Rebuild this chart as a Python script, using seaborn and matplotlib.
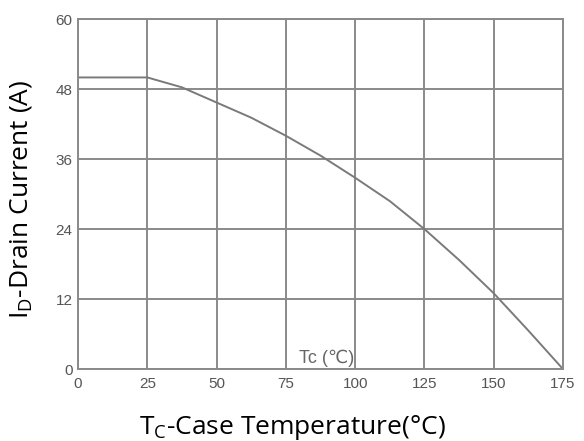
import matplotlib
matplotlib.use("Agg")
import matplotlib.pyplot as plt
import seaborn as sns
import pandas as pd

# Drain current derating vs case temperature
case_temp = [0, 25, 37.5, 50, 62.5, 75, 87.5, 100, 112.5, 125, 137.5, 150, 162.5, 175]
drain_current = [50, 50, 48.3, 45.7, 43.1, 40.0, 36.6, 32.8, 28.8, 24.0, 18.7, 13.0, 6.6, 0]
x_ticks = [0, 25, 50, 75, 100, 125, 150, 175]
y_ticks = [0, 12, 24, 36, 48, 60]

sns.set_style("white")
plt.rcParams["font.family"] = ["Liberation Sans", "DejaVu Sans"]
plt.rcParams["mathtext.default"] = "regular"

df = pd.DataFrame({"Tc": case_temp, "Id": drain_current})

fig = plt.figure(figsize=(5.84, 4.41), dpi=100)
ax = fig.add_axes([0.1336, 0.163, 0.8305, 0.7937])

grid_col = "#8a8a8a"
sns.lineplot(data=df, x="Tc", y="Id", ax=ax, color="#7a7a7a", linewidth=1.4)

ax.set_xlim(0, 175)
ax.set_ylim(0, 60)
ax.set_xticks(x_ticks)
ax.set_yticks(y_ticks)
ax.grid(True, color=grid_col, linewidth=1.4)
ax.tick_params(length=0, labelsize=11, labelcolor="#555555")
ax.tick_params(axis="x", pad=6)
ax.tick_params(axis="y", pad=4)
for s in ax.spines.values():
    s.set_color(grid_col)
    s.set_linewidth(1.4)

ax.text(99.5, 0.4, "Tc (℃)", fontsize=13, color="#666666", ha="right", va="bottom",
        family=["Liberation Sans", "DejaVu Sans"])

label_font = ["Open Sans", "DejaVu Sans"]
ax.set_xlabel("T$_C$-Case Temperature(°C)", fontsize=19, family=label_font,
              color="black")
ax.set_ylabel("I$_D$-Drain Current (A)", fontsize=19, family=label_font,
              color="black")
ax.xaxis.set_label_coords(0.443, -0.125)
ax.yaxis.set_label_coords(-0.09, 0.486)

fig.savefig("out.png", dpi=100)
